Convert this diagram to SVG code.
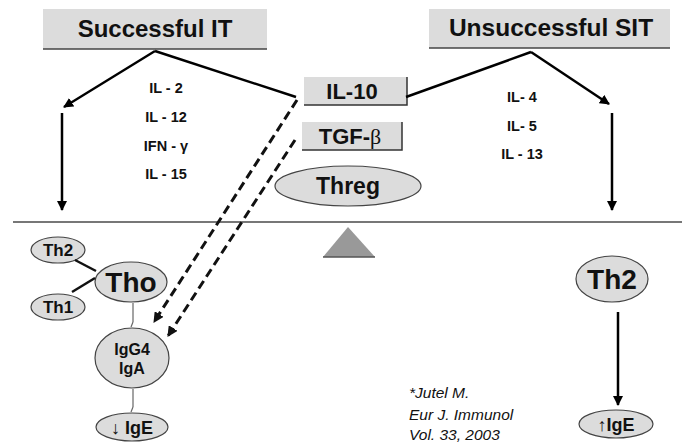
<svg xmlns="http://www.w3.org/2000/svg" width="682" height="443" viewBox="0 0 682 443">
<defs>
<marker id="ah" viewBox="0 0 10 10" refX="9" refY="5" markerWidth="4" markerHeight="4" orient="auto" markerUnits="strokeWidth">
<path d="M0,0 L10,5 L0,10 z" fill="#000"/>
</marker>
<marker id="ahd" viewBox="0 0 10 10" refX="9" refY="5" markerWidth="3.5" markerHeight="3.5" orient="auto" markerUnits="strokeWidth">
<path d="M0,0 L10,5 L0,10 z" fill="#111"/>
</marker>
</defs>
<style>
.box{fill:#dcdcdc;}
.edge{fill:none;stroke:#333;stroke-width:1.5;}
.ell{fill:#dcdcdc;stroke:#444;stroke-width:1.2;}
.t{font-family:"Liberation Sans",Arial,sans-serif;font-weight:bold;fill:#111;text-anchor:middle;}
.cy{font-family:"Liberation Sans",Arial,sans-serif;font-weight:bold;font-size:14.5px;fill:#111;text-anchor:middle;}
.ln{fill:none;stroke:#000;stroke-width:2.5;}
.dash{fill:none;stroke:#111;stroke-width:3;stroke-dasharray:9 5;}
.thin{fill:none;stroke:#666;stroke-width:1.2;}
.cite{font-family:"Liberation Sans",Arial,sans-serif;font-style:italic;font-size:15.5px;fill:#111;}
</style>
<rect width="682" height="443" fill="#fff"/>

<g id="successful-it">
<rect class="box" x="43" y="9" width="224" height="40"/>
<line x1="43" y1="49" x2="267" y2="49" stroke="#444" stroke-width="1.5"/>
<text class="t" x="155" y="37" font-size="24">Successful IT</text>
</g>
<g id="unsuccessful-sit">
<rect class="box" x="429" y="9" width="241" height="39"/>
<line x1="429" y1="48" x2="670" y2="48" stroke="#444" stroke-width="1.5"/>
<text class="t" x="551" y="36" font-size="24.5">Unsuccessful SIT</text>
</g>
<g id="il10">
<rect class="box" x="304" y="77" width="103" height="28"/>
<polyline class="edge" points="304,105 407,105 407,77"/>
<text class="t" x="352" y="99" font-size="22">IL-10</text>
</g>
<g id="tgfb">
<rect class="box" x="302" y="122" width="100" height="28"/>
<polyline class="edge" points="302,150 402,150 402,122"/>
<text class="t" x="350" y="144" font-size="22">TGF-<tspan font-family="Liberation Serif,serif" font-weight="normal">β</tspan></text>
</g>
<g id="threg">
<ellipse class="ell" cx="348" cy="186" rx="73" ry="20"/>
<text class="t" x="348" y="194" font-size="23">Threg</text>
</g>

<g id="cytokines-left">
<text class="cy" x="166" y="93">IL - 2</text>
<text class="cy" x="166" y="122">IL - 12</text>
<text class="cy" x="166" y="151">IFN - γ</text>
<text class="cy" x="166" y="179">IL - 15</text>
</g>
<g id="cytokines-right">
<text class="cy" x="522" y="102">IL- 4</text>
<text class="cy" x="522" y="131">IL- 5</text>
<text class="cy" x="522" y="159">IL - 13</text>
</g>

<g id="divider">
<line x1="13" y1="222" x2="682" y2="222" stroke="#777" stroke-width="2"/>
<polygon points="348,227 375,257 323,257" fill="#999"/>
<line x1="323" y1="257" x2="375" y2="257" stroke="#555" stroke-width="1.5"/>
</g>

<g id="th2-left">
<ellipse class="ell" cx="58" cy="250" rx="27" ry="13"/>
<text class="t" x="58" y="256" font-size="17">Th2</text>
</g>
<g id="th1-left">
<ellipse class="ell" cx="58" cy="307" rx="27" ry="13"/>
<text class="t" x="58" y="313" font-size="17">Th1</text>
</g>
<g id="tho">
<ellipse class="ell" cx="131" cy="282" rx="36" ry="20"/>
<text class="t" x="131" y="292" font-size="28">Tho</text>
</g>
<g id="igg4-iga">
<ellipse class="ell" cx="132" cy="358" rx="37" ry="30"/>
<text class="t" x="132" y="355" font-size="16">IgG4</text>
<text class="t" x="132" y="374" font-size="16">IgA</text>
</g>
<g id="ige-down">
<ellipse class="ell" cx="132" cy="427" rx="36" ry="14"/>
<text class="t" x="132" y="434" font-size="18"><tspan font-weight="normal">↓</tspan> IgE</text>
</g>
<g id="th2-right">
<ellipse class="ell" cx="612" cy="279" rx="36" ry="23"/>
<text class="t" x="612" y="289" font-size="28">Th2</text>
</g>
<g id="ige-up">
<ellipse class="ell" cx="616" cy="424" rx="37" ry="14"/>
<text class="t" x="616" y="431" font-size="18"><tspan font-weight="normal">↑</tspan>IgE</text>
</g>

<g id="citation">
<text class="cite" x="409" y="398">*Jutel M.</text>
<text class="cite" x="409" y="420">Eur J. Immunol</text>
<text class="cite" x="409" y="440">Vol. 33, 2003</text>
</g>

<g id="connectors">
<line class="ln" x1="155" y1="51" x2="64" y2="107" marker-end="url(#ah)"/>
<line class="ln" x1="155" y1="51" x2="296" y2="97"/>
<line class="ln" x1="62" y1="113" x2="62" y2="210" marker-end="url(#ah)"/>
<line class="ln" x1="531" y1="52" x2="406" y2="97"/>
<line class="ln" x1="531" y1="52" x2="609" y2="104" marker-end="url(#ah)"/>
<line class="ln" x1="612" y1="113" x2="612" y2="210" marker-end="url(#ah)"/>
<line class="dash" x1="297" y1="100" x2="154" y2="322" marker-end="url(#ahd)"/>
<line class="dash" x1="295" y1="140" x2="168" y2="336" marker-end="url(#ahd)"/>
<line x1="75" y1="260" x2="96" y2="271" stroke="#111" stroke-width="2.5"/>
<line x1="72" y1="292" x2="95" y2="278" stroke="#111" stroke-width="2.5"/>
<line class="thin" x1="133" y1="303" x2="133" y2="322"/>
<line class="thin" x1="133" y1="322" x2="131" y2="327"/>
<line class="thin" x1="133" y1="389" x2="133" y2="407"/>
<line class="thin" x1="133" y1="407" x2="131" y2="412"/>
<line class="ln" x1="618" y1="312" x2="618" y2="405" marker-end="url(#ah)"/>
</g>
</svg>
